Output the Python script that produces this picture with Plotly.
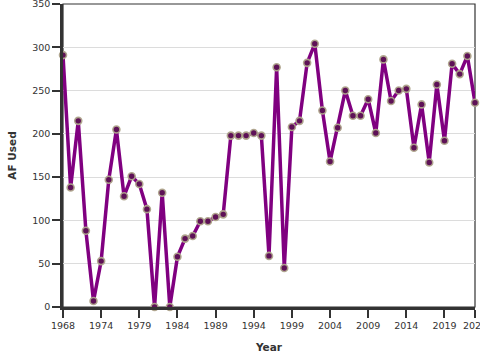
import plotly.graph_objects as go

years = [1968] + list(range(1970, 2024))
af_used = [291, 138, 215, 88, 7, 53, 147, 205, 128, 151,
           142, 113, 0, 132, 0, 58, 79, 82, 99, 99,
           104, 107, 198, 198, 198, 201, 198, 59, 277, 45,
           208, 215, 282, 304, 227, 168, 207, 250, 221, 221,
           240, 201, 286, 238, 250, 252, 184, 234, 167, 257,
           192, 281, 269, 290, 236]
tick_idx = [0, 5, 10, 15, 20, 25, 30, 35, 40, 45, 50, 54]
y_ticks = [0, 50, 100, 150, 200, 250, 300, 350]

xcats = [str(y) for y in years]
tickvals = [xcats[i] for i in tick_idx]

fig = go.Figure()
fig.add_trace(go.Scatter(
    x=xcats, y=af_used, mode="lines+markers",
    line=dict(color="#800080", width=3.5),
    marker=dict(size=7, color="#5e1157",
                line=dict(color="rgba(175,165,140,0.95)", width=1.6)),
    cliponaxis=False, hoverinfo="x+y",
))

font = "DejaVu Sans, Verdana, sans-serif"
fig.update_layout(
    width=480, height=360,
    margin=dict(l=63, r=5, t=4, b=53, autoexpand=False),
    paper_bgcolor="white", plot_bgcolor="white",
    showlegend=False,
    font=dict(family=font, size=9.5, color="#333"),
    xaxis=dict(
        type="category", range=[0, len(xcats) - 1],
        tickmode="array", tickvals=tickvals, ticktext=tickvals,
        showgrid=False, showline=True, linecolor="#333", linewidth=2.5,
        ticks="outside", ticklen=8, tickcolor="#333", tickwidth=1.5,
        tickangle=0, automargin=False, ticklabeloverflow="allow",
        title=dict(text="<b>Year</b>", font=dict(size=10.5, color="#333"), standoff=14),
        zeroline=False,
    ),
    yaxis=dict(
        range=[0, 350], tickmode="array", tickvals=y_ticks,
        showgrid=True, gridcolor="#dcdcdc", gridwidth=1,
        showline=True, linecolor="#333", linewidth=2.5,
        ticks="outside", ticklen=8, tickcolor="#333", tickwidth=1.5,
        automargin=False, zeroline=False, ticklabeloverflow="allow",
        title=dict(text="<b>AF Used</b>", font=dict(size=10.5, color="#333"), standoff=14),
    ),
    shapes=[dict(type="rect", xref="paper", yref="paper", x0=0, x1=1, y0=0, y1=1,
                 line=dict(color="#333", width=1.2), layer="below")],
)

fig.write_html("out.html", config={"displayModeBar": False},
               post_script="document.body.style.margin='0';document.body.style.padding='0';document.body.style.overflow='hidden';")
